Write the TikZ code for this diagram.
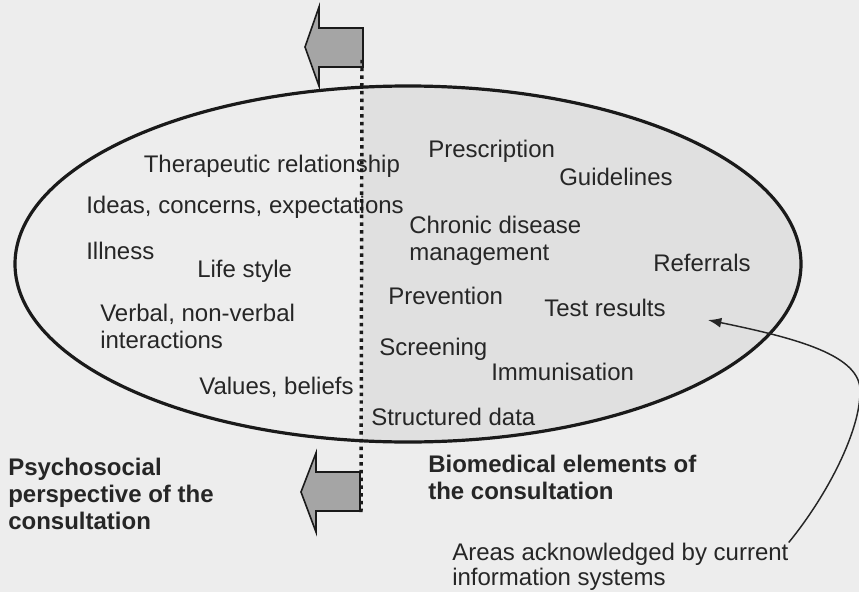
\documentclass[tikz,border=0pt]{standalone}
\usepackage{fontspec}
\setmainfont{Liberation Sans}
\usetikzlibrary{arrows.meta}
\definecolor{paper}{HTML}{EDEDED}
\definecolor{biofill}{HTML}{E0E0E0}
\definecolor{ink}{HTML}{262626}
\definecolor{lineink}{HTML}{1A1A1A}
\definecolor{blockfill}{HTML}{A5A5A5}

\begin{document}
\begin{tikzpicture}[x=0.75pt,y=-0.75pt,
  lbl/.style={anchor=base west, inner sep=0pt, text=ink,
    font=\fontsize{18}{20.25}\selectfont},
  lbls/.style={anchor=north west, inner sep=0pt, text=ink, align=left,
    font=\fontsize{18}{20.25}\selectfont},
  heading/.style={anchor=north west, inner sep=0pt, text=ink, align=left,
    font=\bfseries\fontsize{18}{20.25}\selectfont},
  blockarrow/.style={draw=lineink, line width=1.2pt, fill=blockfill, line join=miter},
  divider/.style={draw=lineink, line width=2.6pt, dash pattern=on 2.6pt off 3.2pt},
  rim/.style={draw=lineink, line width=2.4pt},
  pointer/.style={draw=ink, line width=1.1pt, -{Latex[length=10pt,width=7.5pt]}}
]
% page
\fill[paper] (0,0) rectangle (859,592);
\useasboundingbox (0,0) rectangle (859,592);

% biomedical half of the consultation, tinted
\begin{scope}
  \clip (362,0) rectangle (859,592);
  \fill[biofill] (408,264) ellipse [x radius=393, y radius=178];
\end{scope}

% block arrows pointing towards the psychosocial side
\draw[blockarrow] (363,28) -- (319,28) -- (319,7) -- (305,47) -- (319,86)
  -- (319,67) -- (363,67) -- cycle;
\draw[blockarrow] (360,472) -- (316,472) -- (316,453) -- (301,492) -- (316,532)
  -- (316,511) -- (360,511) -- cycle;

% the consultation
\draw[rim] (408,264) ellipse [x radius=393, y radius=178];

% psychosocial elements
\node[lbl] (thera) at (143.5,172) {Therapeutic relationship};
\node[lbl] (ideas) at (86,213) {Ideas, concerns, expectations};
\node[lbl] (illness) at (86,259) {Illness};
\node[lbl] (life) at (197,277) {Life style};
\node[lbls] (verbal) at (100,303.5) {Verbal, non-verbal\\interactions};
\node[lbl] (values) at (199,394) {Values, beliefs};

% biomedical elements
\node[lbl] (presc) at (428,157) {Prescription};
\node[lbl] (guide) at (559,185) {Guidelines};
\node[lbls] (chronic) at (409,215.5) {Chronic disease\\management};
\node[lbl] (refer) at (653,271) {Referrals};
\node[lbl] (prev) at (388,304) {Prevention};
\node[lbl] (tests) at (544,316) {Test results};
\node[lbl] (screen) at (379,355) {Screening};
\node[lbl] (immun) at (491,380) {Immunisation};
\node[lbl] (struct) at (371,425) {Structured data};

% dividing line
\coordinate (divtop) at (362,60);
\coordinate (divbot) at (361,515);
\draw[divider] (divtop) -- (divbot);

% headings
\node[heading] (psycho) at (8,457.5) {Psychosocial\\perspective of the\\consultation};
\node[heading] (biomed) at (428,454.5) {Biomedical elements of\\the consultation};

% annotation
\node[lbls, font=\fontsize{18}{18.75}\selectfont] (areas) at (452,542.5)
  {Areas acknowledged by current\\information systems};
\coordinate (areatip) at (708,320);
\draw[pointer] (areas.north east) .. controls (829,493) and (860,430) .. (860,392)
  .. controls (862,355) and (795,338) .. (areatip);
\end{tikzpicture}
\end{document}
